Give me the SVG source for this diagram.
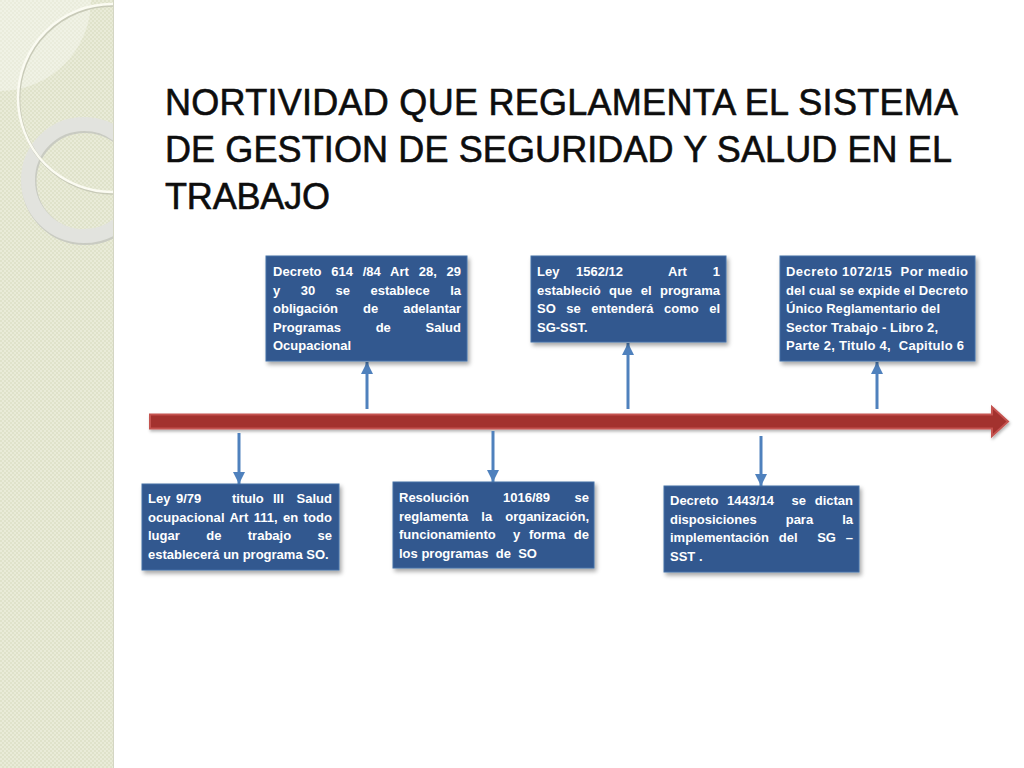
<svg xmlns="http://www.w3.org/2000/svg" width="1024" height="768" viewBox="0 0 1024 768">
<style>
.title{font-family:"Liberation Sans",Arial,sans-serif;font-size:36px;fill:#0d0d0d;stroke:#0d0d0d;stroke-width:0.6px}
.bt{font-family:"Liberation Sans",Arial,sans-serif;font-weight:bold;font-size:13px;fill:#ffffff}
.box{fill:#30598f;stroke:#4470a6;stroke-width:1}
.conn{stroke:#4f81bd;stroke-width:3;fill:none}
</style>
<defs>
<pattern id="dots" width="4" height="4" patternUnits="userSpaceOnUse">
<rect width="4" height="4" fill="#e9ebd8"/>
<rect x="0" y="0" width="2" height="2" fill="#dfe2ca"/>
<rect x="2" y="2" width="2" height="2" fill="#dfe2ca"/>
</pattern>
<clipPath id="strip"><rect x="0" y="0" width="113" height="768"/></clipPath>
<filter id="sh" x="-10%" y="-10%" width="125%" height="130%">
<feDropShadow dx="2" dy="3" stdDeviation="2" flood-color="#000" flood-opacity="0.35"/>
</filter>
<filter id="rs" x="-5%" y="-50%" width="110%" height="200%">
<feDropShadow dx="1" dy="2" stdDeviation="1.5" flood-color="#000" flood-opacity="0.3"/>
</filter>
<marker id="ah" viewBox="0 0 10 10" refX="10" refY="5" markerWidth="12" markerHeight="12" markerUnits="userSpaceOnUse" orient="auto">
<path d="M0,0 L10,5 L0,10 z" fill="#4f81bd"/>
</marker>
</defs>
<rect width="1024" height="768" fill="#ffffff"/>
<g id="background" clip-path="url(#strip)">
<rect x="0" y="0" width="113" height="768" fill="url(#dots)"/>
<circle cx="0" cy="0" r="91" fill="#ffffff" fill-opacity="0.35"/>
<circle cx="84" cy="180" r="56" fill="none" stroke="#c9cbc2" stroke-width="15" transform="translate(1,1.5)"/>
<circle cx="84" cy="180" r="56" fill="none" stroke="#e2e3de" stroke-width="14"/>
<circle cx="112" cy="98" r="94" fill="none" stroke="#c8cab8" stroke-width="3" transform="translate(0.8,1.2)"/>
<circle cx="112" cy="98" r="94" fill="none" stroke="#fbfbf2" stroke-width="2.5"/>
</g>
<line x1="113.5" y1="0" x2="113.5" y2="768" stroke="#d4d6c4" stroke-width="1"/>
<g id="title">
<text class="title" x="165" y="115" textLength="793" lengthAdjust="spacing">NORTIVIDAD QUE REGLAMENTA EL SISTEMA</text>
<text class="title" x="165" y="162" textLength="787" lengthAdjust="spacing">DE GESTION DE SEGURIDAD Y SALUD EN EL</text>
<text class="title" x="165" y="209" textLength="165" lengthAdjust="spacing">TRABAJO</text>
</g>
<g id="connectors">
<polygon id="timeline" points="150,414.5 992,414.5 992,407 1008,421.5 992,436 992,428.5 150,428.5" fill="#a3302f" stroke="#c4524f" stroke-width="2" filter="url(#rs)"/>
<line class="conn" x1="367" y1="409" x2="367" y2="362" marker-end="url(#ah)"/>
<line class="conn" x1="628" y1="409" x2="628" y2="343" marker-end="url(#ah)"/>
<line class="conn" x1="877" y1="409" x2="877" y2="362" marker-end="url(#ah)"/>
<line class="conn" x1="239" y1="433" x2="239" y2="484" marker-end="url(#ah)"/>
<line class="conn" x1="493" y1="431" x2="493" y2="482" marker-end="url(#ah)"/>
<line class="conn" x1="761" y1="436" x2="761" y2="486" marker-end="url(#ah)"/>
</g>
<g id="node-decreto-614">
<rect class="box" x="266" y="256" width="201" height="105" filter="url(#sh)"/>
<text class="bt" x="273" y="276" textLength="188" lengthAdjust="spacing" style="word-spacing:6.1px">Decreto 614 /84 Art 28, 29</text>
<text class="bt" x="273" y="294.6" textLength="188" lengthAdjust="spacing" style="word-spacing:16.8px">y 30 se establece la</text>
<text class="bt" x="273" y="313.2" textLength="188" lengthAdjust="spacing" style="word-spacing:21.4px">obligación de adelantar</text>
<text class="bt" x="273" y="331.8" textLength="188" lengthAdjust="spacing" style="word-spacing:31.1px">Programas de Salud</text>
<text class="bt" x="273" y="350.4">Ocupacional</text>
</g>
<g id="node-ley-1562">
<rect class="box" x="531" y="256" width="195" height="86" filter="url(#sh)"/>
<text class="bt" y="276"><tspan x="537">Ley</tspan><tspan x="576">1562/12</tspan><tspan x="668">Art</tspan><tspan x="712.8">1</tspan></text>
<text class="bt" x="537" y="294.6" textLength="183" lengthAdjust="spacing" style="word-spacing:4.9px">estableció que el programa</text>
<text class="bt" x="537" y="313.2" textLength="183" lengthAdjust="spacing" style="word-spacing:6.9px">SO se entenderá como el</text>
<text class="bt" x="537" y="331.8">SG-SST.</text>
</g>
<g id="node-decreto-1072">
<rect class="box" x="780" y="256" width="195" height="105" filter="url(#sh)"/>
<text class="bt" x="786" y="276" textLength="182" lengthAdjust="spacing" xml:space="preserve">Decreto 1072/15  Por medio</text>
<text class="bt" x="786" y="294.6" textLength="182" lengthAdjust="spacing">del cual se expide el Decreto</text>
<text class="bt" x="786" y="313.2" textLength="154" lengthAdjust="spacing">Único Reglamentario del</text>
<text class="bt" x="786" y="331.8" textLength="152" lengthAdjust="spacing">Sector Trabajo - Libro 2,</text>
<text class="bt" x="786" y="350.4" textLength="178" lengthAdjust="spacing" xml:space="preserve">Parte 2, Titulo 4,  Capitulo 6</text>
</g>
<g id="node-ley-9">
<rect class="box" x="142" y="484" width="197" height="86" filter="url(#sh)"/>
<text class="bt" y="503"><tspan x="148">Ley</tspan><tspan x="176">9/79</tspan><tspan x="232">titulo</tspan><tspan x="273">III</tspan><tspan x="296.6">Salud</tspan></text>
<text class="bt" x="148" y="521.6" textLength="184" lengthAdjust="spacing" style="word-spacing:1.6px">ocupacional Art 111, en todo</text>
<text class="bt" x="148" y="540.2" textLength="184" lengthAdjust="spacing" style="word-spacing:22.8px">lugar de trabajo se</text>
<text class="bt" x="148" y="558.8">establecerá un programa SO.</text>
</g>
<g id="node-resolucion-1016">
<rect class="box" x="393" y="482" width="201" height="86" filter="url(#sh)"/>
<text class="bt" y="502"><tspan x="399">Resolución</tspan><tspan x="503">1016/89</tspan><tspan x="574.5">se</tspan></text>
<text class="bt" x="399" y="520.6" textLength="190" lengthAdjust="spacing" style="word-spacing:9.4px">reglamenta la organización,</text>
<text class="bt" x="399" y="539.2" textLength="190" lengthAdjust="spacing" style="word-spacing:5.1px" xml:space="preserve">funcionamiento  y forma de</text>
<text class="bt" x="399" y="557.8" xml:space="preserve">los programas  de  SO</text>
</g>
<g id="node-decreto-1443">
<rect class="box" x="664" y="486" width="195" height="86" filter="url(#sh)"/>
<text class="bt" x="670" y="505" textLength="183" lengthAdjust="spacing" style="word-spacing:5.1px" xml:space="preserve">Decreto 1443/14  se dictan</text>
<text class="bt" x="670" y="523.6" textLength="183" lengthAdjust="spacing" style="word-spacing:25.4px">disposiciones para la</text>
<text class="bt" x="670" y="542.2" textLength="183" lengthAdjust="spacing" style="word-spacing:6.2px" xml:space="preserve">implementación del  SG –</text>
<text class="bt" x="670" y="560.8">SST .</text>
</g>
</svg>
